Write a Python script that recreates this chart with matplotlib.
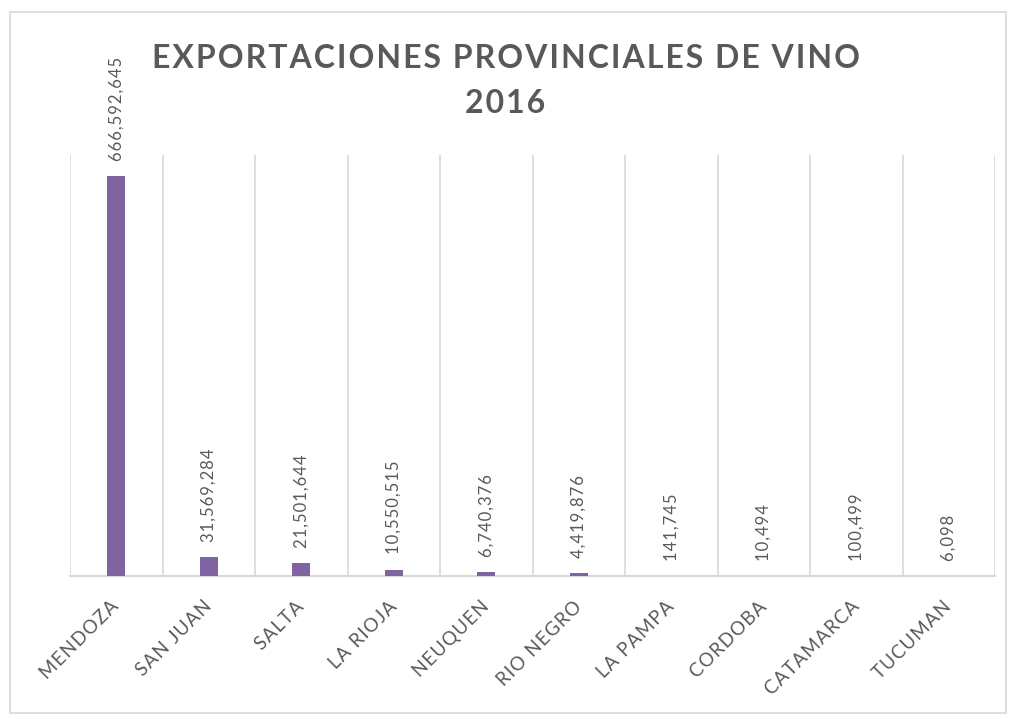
import matplotlib
matplotlib.use("Agg")
import matplotlib.pyplot as plt
from matplotlib.patches import Rectangle

provinces = ["MENDOZA", "SAN JUAN", "SALTA", "LA RIOJA", "NEUQUEN",
             "RIO NEGRO", "LA PAMPA", "CORDOBA", "CATAMARCA", "TUCUMAN"]
exports = [666592645, 31569284, 21501644, 10550515, 6740376,
           4419876, 141745, 10494, 100499, 6098]
title_lines = ["EXPORTACIONES PROVINCIALES DE VINO", "2016"]

BAR = "#8064A2"
TXT = "#595959"
GRID = "#D9D9D9"

plt.rcParams['font.family'] = ['Lato', 'DejaVu Sans']

def spaced(s, sep="\u200a"):
    return sep.join(s)

fig = plt.figure(figsize=(10.11, 7.19), dpi=100)
fig.patches.append(Rectangle((9.5/1011, 1-713/719), 996/1011, 701/719,
                             transform=fig.transFigure, fill=False,
                             edgecolor=GRID, linewidth=1.2))

ax = fig.add_axes([70/1011, 1-576/719, 925/1011, 421/719])
x = list(range(len(provinces)))
ax.bar(x, exports, width=0.19, color=BAR, zorder=3)
ax.set_xlim(-0.5, len(provinces)-0.5)
ax.set_ylim(0, 666592645*421/400)

for b in [i - 0.5 for i in range(len(provinces)+1)]:
    ax.axvline(b, color=GRID, linewidth=1.2, zorder=1)

for s in ["top", "right", "left"]:
    ax.spines[s].set_visible(False)
ax.spines["bottom"].set_color(GRID)
ax.spines["bottom"].set_linewidth(1.5)
ax.set_yticks([])
ax.set_xticks(x)
ax.set_xticklabels([spaced(p) for p in provinces], rotation=45, ha="right",
                   va="center", rotation_mode="anchor", fontsize=13.5, color=TXT)
ax.tick_params(axis="x", length=0, pad=20)

for xi, v in zip(x, exports):
    ax.annotate(spaced(f"{v:,}"), (xi, v), xytext=(0, 11), textcoords="offset points",
                rotation=90, ha="center", va="bottom", fontsize=12, color=TXT)

fig.text(0.5, 1-68/719, spaced(title_lines[0]), ha="center", va="baseline",
         fontsize=23, fontweight="bold", color=TXT)
fig.text(0.5, 1-113/719, spaced(title_lines[1]), ha="center", va="baseline",
         fontsize=23, fontweight="bold", color=TXT)

fig.savefig("out.png", dpi=100)
